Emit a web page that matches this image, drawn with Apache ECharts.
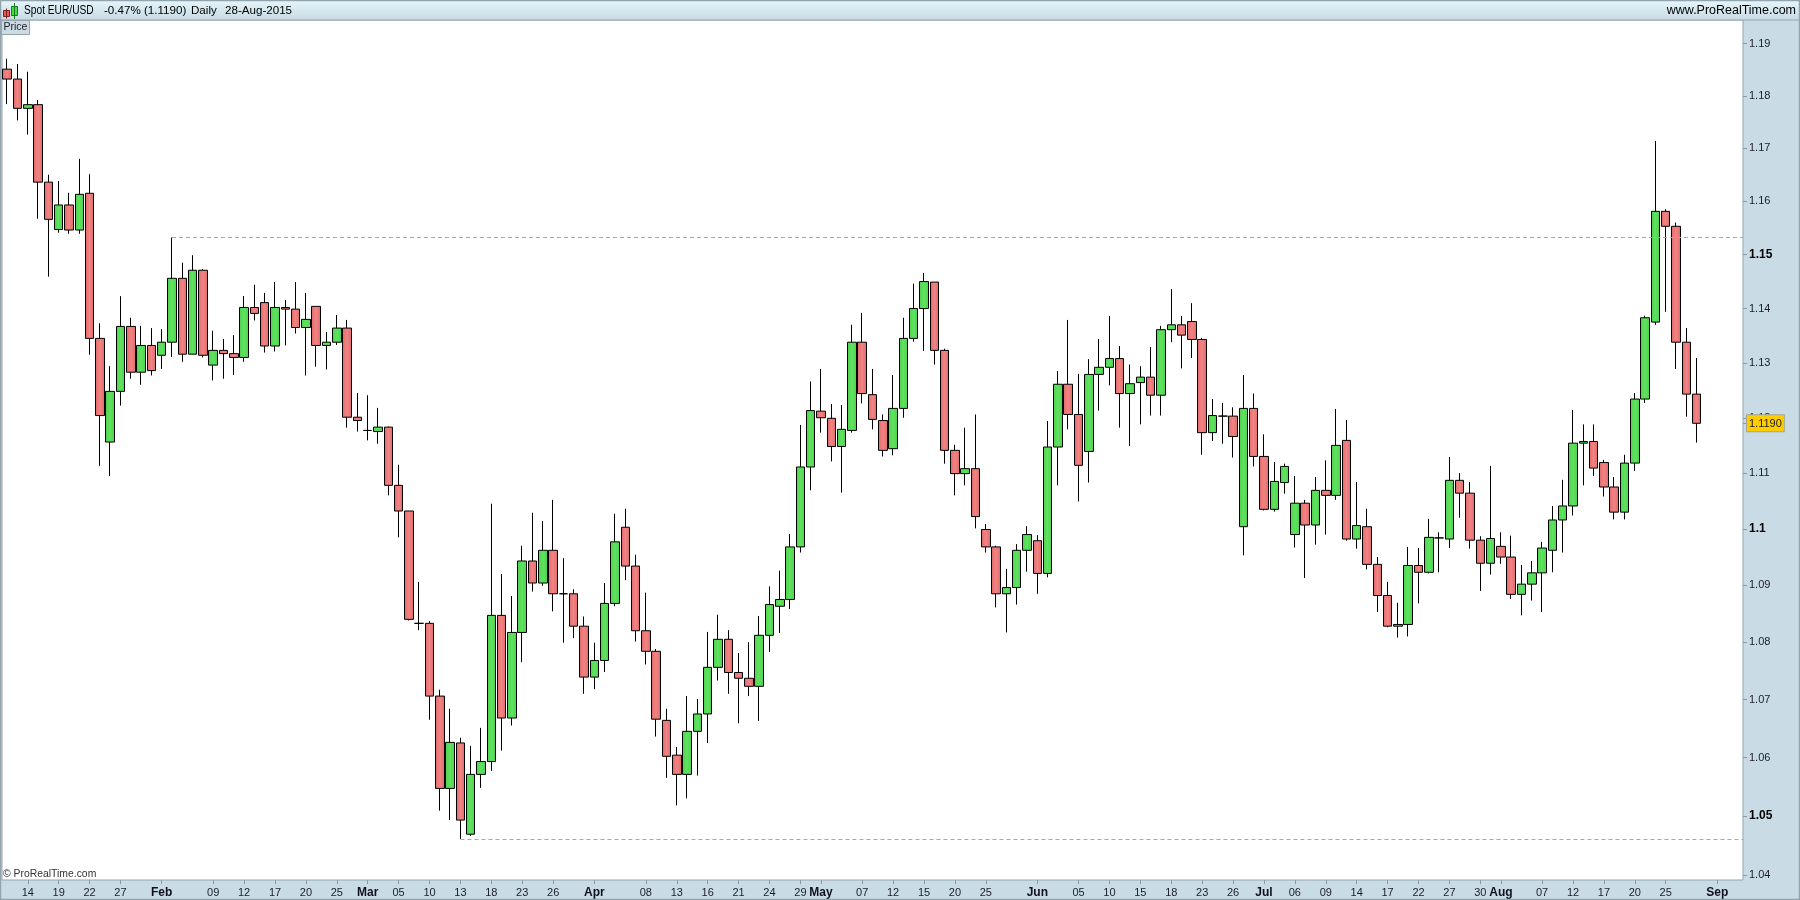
<!DOCTYPE html>
<html><head><meta charset="utf-8">
<style>html,body{margin:0;padding:0;background:#fff}#c{width:1800px;height:900px}</style>
<script src="https://cdn.jsdelivr.net/npm/echarts@6/dist/echarts.min.js"></script>
</head><body><div id="c"></div>
<script>
const categories = [
'01-12','01-13','01-14','01-15','01-16','01-19','01-20','01-21','01-22','01-23','01-26','01-27','01-28','01-29','01-30',
'02-02','02-03','02-04','02-05','02-06','02-09','02-10','02-11','02-12','02-13','02-16','02-17','02-18','02-19','02-20','02-23','02-24','02-25','02-26','02-27',
'03-02','03-03','03-04','03-05','03-06','03-09','03-10','03-11','03-12','03-13','03-16','03-17','03-18','03-19','03-20','03-23','03-24','03-25','03-26','03-27','03-30','03-31',
'04-01','04-02','04-03','04-06','04-07','04-08','04-09','04-10','04-13','04-14','04-15','04-16','04-17','04-20','04-21','04-22','04-23','04-24','04-27','04-28','04-29','04-30',
'05-01','05-04','05-05','05-06','05-07','05-08','05-11','05-12','05-13','05-14','05-15','05-18','05-19','05-20','05-21','05-22','05-25','05-26','05-27','05-28','05-29',
'06-01','06-02','06-03','06-04','06-05','06-08','06-09','06-10','06-11','06-12','06-15','06-16','06-17','06-18','06-19','06-22','06-23','06-24','06-25','06-26','06-29','06-30',
'07-01','07-02','07-03','07-06','07-07','07-08','07-09','07-10','07-13','07-14','07-15','07-16','07-17','07-20','07-21','07-22','07-23','07-24','07-27','07-28','07-29','07-30','07-31',
'08-03','08-04','08-05','08-06','08-07','08-10','08-11','08-12','08-13','08-14','08-17','08-18','08-19','08-20','08-21','08-24','08-25','08-26','08-27','08-28',
'08-31','09-01','09-02','09-03'];

const highs = [1.1871,1.1861,1.1846,1.1792,1.1650,1.1638,1.1616,1.1680,1.1651,1.1373,1.1294,1.1423,1.1383,1.1368,1.1364,1.1362,1.1532,1.1485,1.1499,1.1473,
1.1359,1.1344,1.1351,1.1423,1.1444,1.1429,1.1449,1.1416,1.1449,1.1429,1.1404,1.1357,1.1388,1.1379,1.1245,1.1241,1.1218,1.1184,1.1115,1.1032,
1.0906,1.0837,1.0717,1.0684,1.0634,1.0620,1.0651,1.1045,1.0920,1.0881,1.0970,1.1029,1.1014,1.1052,1.0948,1.0893,1.0845,1.0799,1.0904,1.1027,
1.1036,1.0954,1.0887,1.0788,1.0684,1.0618,1.0706,1.0701,1.0818,1.0848,1.0821,1.0781,1.0800,1.0846,1.0898,1.0926,1.0991,1.1187,1.1266,1.1289,
1.1225,1.1223,1.1370,1.1392,1.1289,1.1206,1.1278,1.1383,1.1446,1.1466,1.1449,1.1326,1.1151,1.1182,1.1206,1.1009,1.0970,1.0929,1.0973,1.1005,
1.0989,1.1194,1.1285,1.1379,1.1280,1.1307,1.1344,1.1386,1.1331,1.1297,1.1294,1.1329,1.1368,1.1436,1.1386,1.1410,1.1346,1.1234,1.1227,1.1219,
1.1278,1.1244,1.1170,1.1120,1.1117,1.1095,1.1052,1.1093,1.1123,1.1216,1.1196,1.1084,1.1036,1.0950,1.0906,1.0869,1.0968,1.0966,1.1018,1.0994,
1.1129,1.1100,1.1084,1.0987,1.1113,1.0994,1.0988,1.0936,1.0943,1.0977,1.1041,1.1088,1.1214,1.1188,1.1188,1.1124,1.1093,1.1133,1.1245,1.1387,
1.1714,1.1585,1.1560,1.1364,1.1309];

const lows = [1.1784,1.1753,1.1726,1.1567,1.1459,1.1541,1.1539,1.1539,1.1315,1.1113,1.1095,1.1222,1.1271,1.1260,1.1277,1.1289,1.1311,1.1302,1.1316,1.1310,
1.1268,1.1271,1.1278,1.1302,1.1378,1.1319,1.1321,1.1332,1.1354,1.1277,1.1293,1.1288,1.1333,1.1182,1.1175,1.1159,1.1153,1.1060,1.0985,1.0838,
1.0821,1.0665,1.0509,1.0493,1.0461,1.0466,1.0548,1.0577,1.0612,1.0655,1.0765,1.0889,1.0899,1.0854,1.0799,1.0807,1.0710,1.0718,1.0748,1.0863,
1.0909,1.0801,1.0761,1.0636,1.0565,1.0518,1.0530,1.0569,1.0625,1.0733,1.0710,1.0659,1.0706,1.0663,1.0783,1.0816,1.0858,1.0958,1.1069,1.1173,
1.1121,1.1065,1.1173,1.1226,1.1179,1.1130,1.1132,1.1200,1.1339,1.1322,1.1297,1.1117,1.1060,1.1078,1.1001,1.0958,1.0861,1.0817,1.0866,1.0924,
1.0885,1.0914,1.1078,1.1179,1.1049,1.1083,1.1213,1.1259,1.1182,1.1149,1.1188,1.1204,1.1204,1.1338,1.1290,1.1309,1.1133,1.1158,1.1153,1.1128,
1.0953,1.1112,1.1033,1.1031,1.1063,1.0967,1.0913,1.0972,1.0990,1.1052,1.0979,1.0965,1.0928,1.0853,1.0826,1.0808,1.0810,1.0868,1.0921,1.0923,
1.0966,1.1020,1.0965,1.0890,1.0919,1.0938,1.0876,1.0847,1.0873,1.0853,1.0923,1.0958,1.1024,1.1078,1.1095,1.1058,1.1017,1.1017,1.1104,1.1227,
1.1370,1.1394,1.1289,1.1202,1.1155];

const opens = [1.1851,1.1832,1.1776,1.1783,1.1636,1.1547,1.1593,1.1546,1.1615,1.1345,1.1156,1.1248,1.1367,1.1283,1.1332,1.1314,1.1338,1.1456,1.1316,1.1471,
1.1296,1.1323,1.1317,1.1310,1.1402,1.1411,1.1331,1.1402,1.1399,1.1365,1.1404,1.1332,1.1338,1.1364,1.1201,1.1177,1.1175,1.1183,1.1078,1.1032,
1.0833,1.0833,1.0706,1.0547,1.0625,1.0469,1.0571,1.0593,1.0847,1.0668,1.0817,1.0943,1.0904,1.0962,1.0885,1.0885,1.0828,1.0739,1.0768,1.0868,
1.1003,1.0934,1.0820,1.0784,1.0664,1.0604,1.0571,1.0645,1.0675,1.0756,1.0805,1.0747,1.0737,1.0723,1.0812,1.0863,1.0875,1.0968,1.1111,1.1212,
1.1199,1.1148,1.1177,1.1338,1.1242,1.1195,1.1144,1.1217,1.1345,1.1400,1.1449,1.1323,1.1141,1.1099,1.1108,1.0999,1.0968,1.0885,1.0896,1.0962,
1.0979,1.0921,1.1147,1.1261,1.1206,1.1139,1.1279,1.1292,1.1308,1.1244,1.1264,1.1274,1.1241,1.1361,1.1370,1.1376,1.1343,1.1173,1.1203,1.1203,
1.1004,1.1217,1.1130,1.1035,1.1083,1.0990,1.1046,1.1007,1.1069,1.1060,1.1159,1.0982,1.1004,1.0937,1.0882,1.0828,1.0831,1.0935,1.0923,1.0984,
1.0982,1.1087,1.1064,1.0980,1.0939,1.0969,1.0950,1.0884,1.0902,1.0922,1.0962,1.1016,1.1041,1.1154,1.1157,1.1119,1.1075,1.1030,1.1118,1.1234,
1.1375,1.1581,1.1553,1.1338,1.1243];

const closes = [1.1832,1.1776,1.1783,1.1636,1.1566,1.1593,1.1546,1.1613,1.1345,1.1204,1.1248,1.1367,1.1283,1.1332,1.1286,1.1338,1.1456,1.1316,1.1471,1.1314,
1.1323,1.1317,1.1310,1.1402,1.1391,1.1331,1.1402,1.1399,1.1365,1.1380,1.1332,1.1338,1.1364,1.1201,1.1195,1.1177,1.1183,1.1078,1.1032,1.0840,
1.0833,1.0706,1.0547,1.0626,1.0493,1.0571,1.0593,1.0847,1.0668,1.0817,1.0943,1.0904,1.0962,1.0885,1.0885,1.0828,1.0739,1.0768,1.0868,1.0977,
1.0934,1.0820,1.0784,1.0666,1.0602,1.0571,1.0645,1.0675,1.0756,1.0805,1.0747,1.0737,1.0723,1.0812,1.0866,1.0875,1.0968,1.1111,1.1213,1.1200,
1.1148,1.1179,1.1338,1.1244,1.1197,1.1141,1.1217,1.1345,1.1400,1.1450,1.1323,1.1141,1.1099,1.1108,1.1022,1.0968,1.0885,1.0896,1.0962,1.0990,
1.0921,1.1147,1.1261,1.1206,1.1114,1.1279,1.1292,1.1308,1.1244,1.1262,1.1274,1.1241,1.1361,1.1370,1.1351,1.1343,1.1173,1.1204,1.1203,1.1166,
1.1217,1.1130,1.1035,1.1085,1.1112,1.1046,1.1007,1.1069,1.1060,1.1150,1.0982,1.1006,1.0937,1.0882,1.0828,1.0831,1.0935,1.0923,1.0985,1.0984,
1.1087,1.1064,1.0980,1.0939,1.0983,1.0950,1.0884,1.0902,1.0922,1.0966,1.1016,1.1041,1.1154,1.1157,1.1109,1.1075,1.1030,1.1118,1.1234,1.1383,
1.1581,1.1553,1.1338,1.1243,1.1190];

const priceTicks = [1.19,1.18,1.17,1.16,1.15,1.14,1.13,1.12,1.11,1.1,1.09,1.08,1.07,1.06,1.05,1.04];
const boldPrices = [1.15,1.1,1.05];
const lastPrice = 1.119;
const tickDates = ['01-14','01-19','01-22','01-27','02-02','02-09','02-12','02-17','02-20','02-25','03-02','03-05','03-10','03-13','03-18','03-23','03-26','04-01','04-08','04-13','04-16','04-21','04-24','04-29','05-01','05-07','05-12','05-15','05-20','05-25','06-01','06-05','06-10','06-15','06-18','06-23','06-26','07-01','07-06','07-09','07-14','07-17','07-22','07-27','07-30','08-03','08-07','08-12','08-17','08-20','08-25','09-01'];
const tickLabels = ['14','19','22','27','Feb','09','12','17','20','25','Mar','05','10','13','18','23','26','Apr','08','13','16','21','24','29','May','07','12','15','20','25','Jun','05','10','15','18','23','26','Jul','06','09','14','17','22','27','30','Aug','07','12','17','20','25','Sep'];
const resistance = {date:'02-03', price:1.1532};
const support = {date:'03-13', price:1.0461};
const FONT = '"Liberation Sans", Arial, sans-serif';
const GRIDL = 2, GRIDR = 1743, GRIDT = 20, GRIDB = 880;

const candleData = categories.map((c,i)=> i<opens.length ? [opens[i],closes[i],lows[i],highs[i]] : ['-','-','-','-']);
const grad = (a,b,c)=>({type:'linear',x:0,y:0,x2:1,y2:0,colorStops:[{offset:0,color:a},{offset:.5,color:b},{offset:1,color:c}]});
const chart = echarts.init(document.getElementById('c'),null,{renderer:'canvas'});
const dash = {type:[4,3],color:'#a8a8a8',width:1};

chart.setOption({
  animation:false,
  backgroundColor:'#c9dce6',
  grid:{show:true,left:GRIDL,top:GRIDT,width:GRIDR-GRIDL,height:GRIDB-GRIDT,backgroundColor:'#fff',borderColor:'#93a4ae',borderWidth:1,containLabel:false},
  xAxis:{type:'category',data:categories,boundaryGap:true,
    axisLine:{show:false},
    axisTick:{show:true,length:4,alignWithLabel:true,interval:(i,v)=>tickDates.includes(v),lineStyle:{color:'#8a9aa4'}},
    axisLabel:{show:true,margin:7,interval:(i,v)=>tickDates.includes(v),hideOverlap:false,
      fontFamily:FONT,fontSize:11,color:'#1c1c2c',
      formatter:v=>{const l=tickLabels[tickDates.indexOf(v)];return /[a-z]/i.test(l)?'{m|'+l+'}':l;},
      rich:{m:{fontFamily:FONT,fontSize:12,fontWeight:'bold',color:'#101020'}}},
    splitLine:{show:false}},
  yAxis:{type:'log',logBase:10,position:'right',min:1.03916,max:1.19458,scale:true,
    axisLine:{show:false},
    axisTick:{show:true,length:4,customValues:priceTicks.concat([lastPrice]),lineStyle:{color:'#8a9aa4'}},
    axisLabel:{show:true,margin:4,customValues:priceTicks.concat([lastPrice]),align:'left',
      hideOverlap:false,fontFamily:FONT,fontSize:11,color:'#1c1c2c',
      formatter:v=>{
        if(Math.abs(v-lastPrice)<1e-6) return '{p|'+lastPrice.toFixed(4)+'}';
        const s=String(+(+v).toFixed(2));
        return boldPrices.some(b=>Math.abs(b-v)<1e-6)?'{b|'+s+'}':'{n|'+s+'}';
      },
      rich:{
        n:{padding:[0,0,0,2],fontFamily:FONT,fontSize:11,color:'#1c1c2c'},
        b:{padding:[0,0,0,2],fontFamily:FONT,fontSize:12,fontWeight:'bold',color:'#000'},
        p:{padding:[3,2,2,2],fontFamily:FONT,fontSize:11,color:'#222',backgroundColor:'#ffcc00',borderColor:'#a9a58a',borderWidth:1}
      }},
    splitLine:{show:false}},
  series:[{
    type:'candlestick',data:candleData,barWidth:9,clip:true,
    itemStyle:{color:grad('#4ed24e','#5fe25f','#4ed24e'),color0:grad('#e06a6a','#f28484','#e06a6a'),
      borderColor:'#000',borderColor0:'#000',borderColorDoji:'#000',borderWidth:1},
    markLine:{silent:true,symbol:'none',animation:false,label:{show:false},lineStyle:dash,
      data:[
        [{xAxis:resistance.date,yAxis:resistance.price},{x:GRIDR,yAxis:resistance.price}],
        [{xAxis:support.date,yAxis:support.price},{x:GRIDR,yAxis:support.price}]
      ]}
  }],
  graphic:{elements:[
    {type:'rect',z:10,silent:true,shape:{x:0,y:0,width:1800,height:20},
      style:{fill:{type:'linear',x:0,y:0,x2:0,y2:1,colorStops:[{offset:0,color:'#e6f7fc'},{offset:1,color:'#c7d9e2'}]},stroke:'#93a4ae',lineWidth:1}},
    {type:'rect',z:11,silent:true,shape:{x:3.5,y:10.5,width:6,height:6},style:{fill:'#ee5555',stroke:'#7a2020',lineWidth:1}},
    {type:'rect',z:11,silent:true,shape:{x:6,y:8.5,width:1,height:10},style:{fill:'#7a2020',stroke:null}},
    {type:'rect',z:11,silent:true,shape:{x:11.5,y:6.5,width:6,height:9},style:{fill:'#44dd44',stroke:'#1a7a1a',lineWidth:1}},
    {type:'rect',z:11,silent:true,shape:{x:14,y:3,width:1,height:16},style:{fill:'#1a7a1a',stroke:null}},
    {type:'text',z:11,silent:true,x:24,y:11,scaleX:.85,style:{x:0,y:0,text:'Spot EUR/USD',font:'12px '+FONT,fill:'#000',textVerticalAlign:'middle'}},
    {type:'text',z:11,silent:true,style:{x:104,y:11,text:'-0.47% (1.1190)',font:'11.6px '+FONT,fill:'#000',textVerticalAlign:'middle'}},
    {type:'text',z:11,silent:true,style:{x:191,y:11,text:'Daily',font:'11.6px '+FONT,fill:'#000',textVerticalAlign:'middle'}},
    {type:'text',z:11,silent:true,style:{x:225,y:11,text:'28-Aug-2015',font:'11.6px '+FONT,fill:'#000',textVerticalAlign:'middle'}},
    {type:'text',z:11,silent:true,x:1796,y:11,scaleX:1.04,style:{x:0,y:0,text:'www.ProRealTime.com',font:'12px '+FONT,fill:'#000',textAlign:'right',textVerticalAlign:'middle'}},
    {type:'rect',z:11,silent:true,shape:{x:1.5,y:20.5,width:28,height:14},style:{fill:'#cbdbe4',stroke:'#93a4ae',lineWidth:1}},
    {type:'text',z:12,silent:true,style:{x:3.5,y:27.5,text:'Price',font:'10.5px '+FONT,fill:'#222',textVerticalAlign:'middle'}},
    {type:'text',z:12,silent:true,style:{x:3,y:874,text:'© ProRealTime.com',font:'10.4px '+FONT,fill:'#333',textVerticalAlign:'middle'}},
    {type:'rect',z:13,silent:true,shape:{x:0.5,y:0.5,width:1799,height:899},style:{fill:'none',stroke:'#93a4ae',lineWidth:1.5}}
  ]}
});
</script></body></html>
